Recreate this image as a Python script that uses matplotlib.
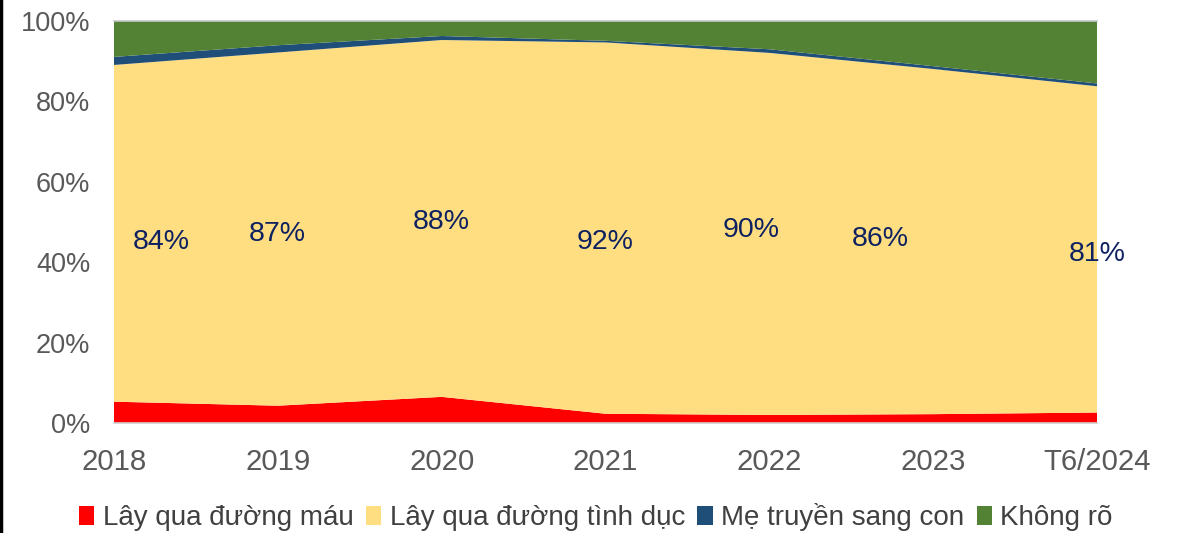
import matplotlib
matplotlib.use("Agg")
import matplotlib.pyplot as plt
from matplotlib.lines import Line2D
from matplotlib.patches import Patch

years = ["2018", "2019", "2020", "2021", "2022", "2023", "T6/2024"]
blood = [5.3, 4.3, 6.5, 2.3, 2.0, 2.2, 2.6]
sexual = [83.7, 87.8, 88.7, 92.3, 90.0, 85.8, 81.1]
mother = [2.0, 1.8, 1.0, 0.4, 0.9, 0.7, 0.7]
unknown = [9.0, 6.1, 3.8, 5.0, 7.1, 11.3, 15.6]
series_names = ["Lây qua đường máu", "Lây qua đường tình dục", "Mẹ truyền sang con", "Không rõ"]
sexual_labels = ["84%", "87%", "88%", "92%", "90%", "86%", "81%"]
label_x = [0.29, 0.995, 2.0, 3.0, 3.89, 4.68, 6.0]
label_y = [45.0, 47.0, 50.0, 45.0, 48.0, 45.8, 42.0]

colors = ["#FF0000", "#FFDE82", "#1F4E79", "#548235"]

plt.rcParams['font.family'] = ['Liberation Sans', 'DejaVu Sans']

fig = plt.figure(figsize=(11.8, 5.33), dpi=100)
ax = fig.add_axes([114/1180, 1-423/533, (1097-114)/1180, (423-20.7)/533])

x = list(range(len(years)))
ax.stackplot(x, blood, sexual, mother, unknown, colors=colors, linewidth=0)

ax.set_xlim(0, len(years) - 1)
ax.set_ylim(0, 100)
ax.set_yticks([0, 20, 40, 60, 80, 100])
ax.set_yticklabels([f"{v}%" for v in [0, 20, 40, 60, 80, 100]])
ax.set_xticks(x)
ax.set_xticklabels(years)
ax.tick_params(axis='both', length=0, colors="#595959")
ax.tick_params(axis='y', pad=17, labelsize=19.5)
ax.tick_params(axis='x', pad=18, labelsize=21.2)
for s in ["left", "right", "top"]:
    ax.spines[s].set_visible(False)
ax.spines["bottom"].set_color("#D0D0D0")
ax.spines["bottom"].set_linewidth(1.2)
ax.axhline(100, color="#C8C8C8", lw=1.2, zorder=5, clip_on=False)

for lx, ly, t in zip(label_x, label_y, sexual_labels):
    ax.text(lx, ly, t, ha="center", va="center", fontsize=20.5, color="#0E2160")

handles = [Patch(facecolor=c, edgecolor='none') for c in colors]
fig.legend(handles, series_names, loc="center", bbox_to_anchor=(0.505, 1-517/533), ncol=4,
           frameon=False, fontsize=20, handlelength=0.55, handleheight=0.7, handletextpad=0.3,
           columnspacing=0.45, labelcolor="#404040")

fig.add_artist(Line2D([0.001, 0.001], [0, 1], transform=fig.transFigure, color="black", lw=2.5))

fig.savefig("out.png", dpi=100)
